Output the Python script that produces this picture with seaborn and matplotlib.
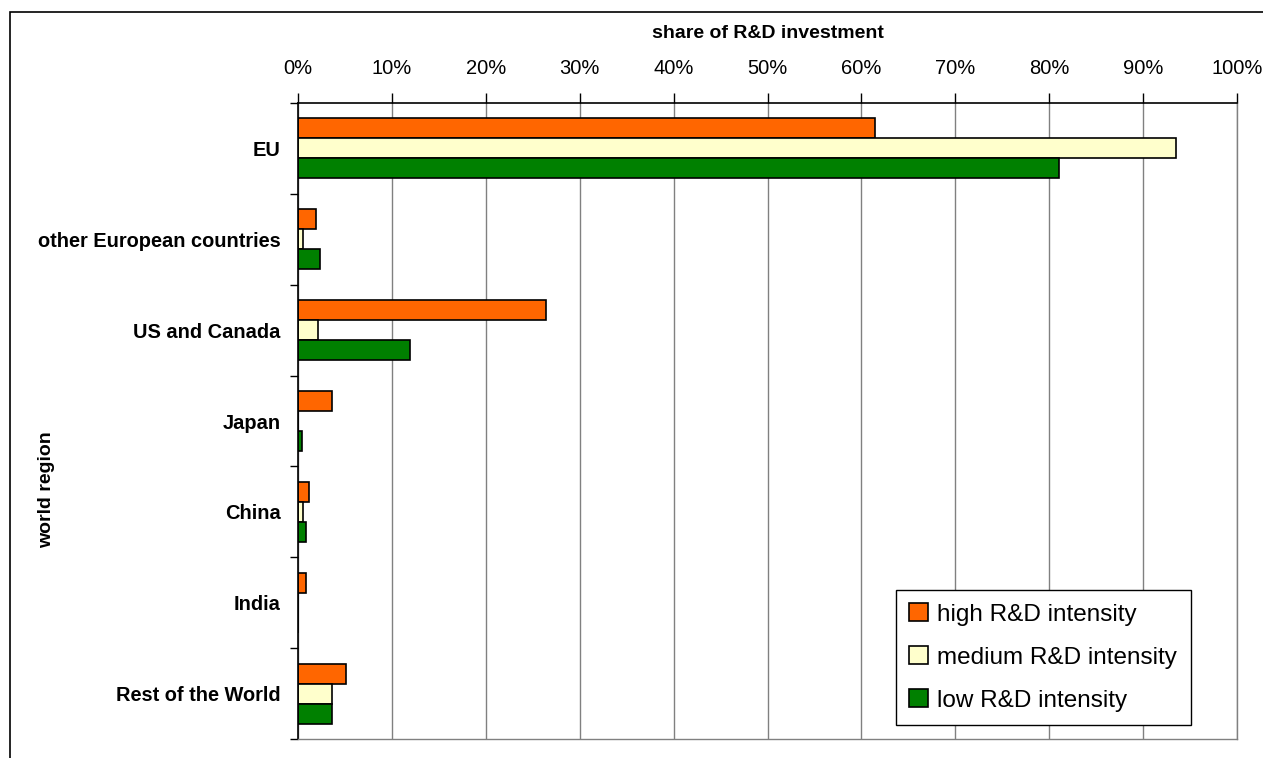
import pandas as pd
import matplotlib.pyplot as plt
import seaborn as sns
from matplotlib.patches import Rectangle
from matplotlib.ticker import FixedLocator, PercentFormatter

# Values (share of R&D investment, %)
regions = ["EU", "other European countries", "US and Canada", "Japan",
           "China", "India", "Rest of the World"]
intensities = ["high R&D intensity", "medium R&D intensity", "low R&D intensity"]
high_share = [61.5, 1.9, 26.4, 3.6, 1.2, 0.8, 5.1]
medium_share = [93.5, 0.5, 2.1, 0.0, 0.5, 0.0, 3.6]
low_share = [81.0, 2.3, 11.9, 0.4, 0.9, 0.0, 3.6]
colors = ["#FF6600", "#FFFFCC", "#008000"]


def create_chart():
    rows = []
    for vals, name in zip([high_share, medium_share, low_share], intensities):
        for region, v in zip(regions, vals):
            rows.append({"region": region, "intensity": name, "share": v / 100})
    df = pd.DataFrame(rows)

    sns.set_theme(style="white")
    plt.rcParams['font.family'] = ['Liberation Sans', 'DejaVu Sans']
    plt.rcParams['text.color'] = 'black'
    plt.rcParams['axes.labelcolor'] = 'black'
    plt.rcParams['xtick.color'] = 'black'
    plt.rcParams['ytick.color'] = 'black'

    fig = plt.figure(figsize=(12.63, 7.58), dpi=100)
    ax = fig.add_axes([298 / 1263, 1 - 739 / 758, (1237 - 298) / 1263, (739 - 103) / 758])

    sns.barplot(data=df, x="share", y="region", hue="intensity", orient="h",
                order=regions, hue_order=intensities, palette=colors, saturation=1,
                width=0.66, edgecolor="black", linewidth=1.2, ax=ax)

    # x axis on top, percent ticks, vertical grid
    ax.set_xlim(0, 1)
    ax.xaxis.set_major_formatter(PercentFormatter(1.0, decimals=0))
    ax.set_xticks([i / 10 for i in range(11)])
    ax.xaxis.tick_top()
    ax.xaxis.set_label_position("top")
    ax.tick_params(axis="x", direction="out", length=7, width=1, color="black",
                   labelsize=14.5, pad=11, top=True, bottom=False)
    ax.grid(axis="x", color="#808080", linewidth=1)
    ax.set_axisbelow(True)
    ax.set_xlabel("share of R&D investment", fontsize=14, fontweight="bold", labelpad=15)

    # category labels, ticks on boundaries
    ax.set_ylim(len(regions) - 0.5, -0.5)
    ax.tick_params(axis="y", which="major", length=0, labelsize=14.4, pad=12.5)
    for lbl in ax.get_yticklabels():
        lbl.set_fontweight("bold")
    ax.yaxis.set_minor_locator(FixedLocator([i - 0.5 for i in range(len(regions) + 1)]))
    ax.tick_params(axis="y", which="minor", left=True, length=6, width=1, color="black")
    ax.set_ylabel("")

    for side in ["top", "left"]:
        ax.spines[side].set_color("black")
        ax.spines[side].set_linewidth(1.2)
    for side in ["bottom", "right"]:
        ax.spines[side].set_color("#808080")
        ax.spines[side].set_linewidth(1)

    fig.text(47 / 1263, 1 - 490 / 758, "world region", rotation=90, fontsize=14,
             fontweight="bold", ha="center", va="center")

    # legend box
    handles, labels = ax.get_legend_handles_labels()
    leg = ax.legend(handles, labels, loc="upper left",
                    bbox_to_anchor=((896 - 298) / 939, 1 - (590 - 103) / 636),
                    fontsize=17.5, frameon=True, fancybox=False, framealpha=1,
                    edgecolor="black", handlelength=0.75, handleheight=0.75,
                    handletextpad=0.4, labelspacing=0.85, borderpad=0.55,
                    borderaxespad=0)
    leg.get_frame().set_linewidth(1)

    # outer chart frame (only left and top edges visible)
    fig.patches.append(Rectangle((10 / 1263, -0.1), 1.2, 1.1 - 12 / 758,
                                 transform=fig.transFigure, fill=False,
                                 edgecolor="black", linewidth=1.2))

    fig.savefig("out.png", dpi=100)
    plt.close(fig)


if __name__ == "__main__":
    create_chart()
